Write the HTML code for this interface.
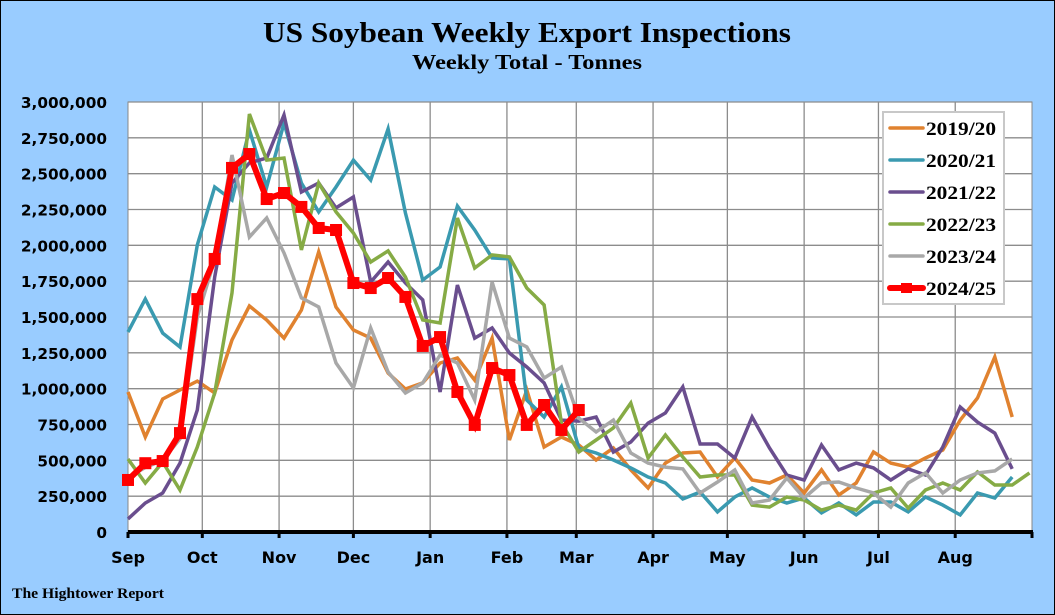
<!DOCTYPE html>
<html><head><meta charset="utf-8"><style>
html,body{margin:0;padding:0;background:#99ccff;}
svg{display:block;}
</style></head><body>
<svg id="chart" width="1055" height="615" xmlns="http://www.w3.org/2000/svg">
<rect x="0.5" y="0.5" width="1054" height="614" fill="#99ccff" stroke="#000"/>
<text x="263" y="42" textLength="528" lengthAdjust="spacingAndGlyphs" font-family="Liberation Serif, serif" font-weight="bold" font-size="29">US Soybean Weekly Export Inspections</text>
<text x="412" y="69" textLength="230" lengthAdjust="spacingAndGlyphs" font-family="Liberation Serif, serif" font-weight="bold" font-size="21">Weekly Total - Tonnes</text>
<rect x="128" y="102" width="904" height="430" fill="#fff" stroke="#888"/>
<g id="grid"></g><g id="series"></g><g id="axes"></g><g id="legend"></g>
<text x="12" y="598" textLength="152" lengthAdjust="spacingAndGlyphs" font-family="Liberation Serif, serif" font-weight="bold" font-size="15">The Hightower Report</text>
</svg>
<script>
const months = ["Sep","Oct","Nov","Dec","Jan","Feb","Mar","Apr","May","Jun","Jul","Aug"];
const monthDays = [30,31,30,31,31,28,31,30,31,30,31,31];
const yTicks = [0,250000,500000,750000,1000000,1250000,1500000,1750000,2000000,2250000,2500000,2750000,3000000];
const seriesNames = ["2019/20","2020/21","2021/22","2022/23","2023/24","2024/25"];
const s2019 = [977,663,928,991,1053,970,1340,1577,1479,1353,1549,1954,1570,1409,1353,1109,998,1040,1179,1214,1060,1353,642,991,593,663,607,502,586,433,307,481,551,558,384,516,363,342,398,272,433,258,342,558,481,453,516,572,781,935,1221,802];
const s2020 = [1395,1625,1388,1291,2002,2407,2316,2805,2407,2853,2435,2233,2407,2595,2456,2812,2226,1758,1849,2274,2107,1912,1905,921,802,1012,586,551,502,447,384,342,230,279,140,244,307,244,202,237,133,202,119,209,209,140,244,188,119,272,237,384];
const s2021 = [91,202,272,481,851,1779,2435,2575,2609,2909,2372,2435,2261,2337,1744,1884,1737,1619,977,1723,1353,1423,1249,1151,1040,781,774,802,558,628,760,830,1012,614,614,516,802,586,398,363,607,433,481,447,363,440,398,593,872,767,690,440];
const s2022 = [509,342,488,293,593,970,1668,2916,2595,2609,1968,2435,2233,2086,1884,1961,1779,1479,1458,2191,1842,1933,1919,1702,1584,760,558,642,726,900,516,677,523,384,398,398,188,174,244,223,153,188,153,272,307,167,293,342,293,419,328,328,412];
const s2023 = [380,450,500,650,1500,1900,2630,2058,2191,1947,1633,1570,1179,1005,1423,1116,970,1040,1235,1179,921,1744,1353,1291,1074,1151,795,698,781,551,481,453,440,272,349,433,202,223,377,237,342,349,307,272,174,342,412,272,363,412,426,509];
const s2024 = [363,480,495,690,1625,1905,2540,2637,2323,2365,2268,2121,2107,1737,1702,1772,1640,1298,1360,977,747,1144,1095,747,886,712,851];
const allSeries = [s2019,s2020,s2021,s2022,s2023,s2024];
const colors = ["#e0822f","#3a9ab0","#6a4e8e","#86ab45","#a8a8a8","#ff0000"];

const X0=128, X1=1032, Y0=532, Y1=102, YMAX=3000000;
const totalDays = monthDays.reduce((a,b)=>a+b,0);
const wk = 7*(X1-X0)/totalDays;
function xWeek(i){return X0 + i*wk;}
function xDay(d){return X0 + d*(X1-X0)/totalDays;}
function yVal(v){return Y0 - v/YMAX*(Y0-Y1);}
const NS="http://www.w3.org/2000/svg";
function mk(tag, attrs, parent){const e=document.createElementNS(NS,tag);for(const k in attrs)e.setAttribute(k,attrs[k]);parent.appendChild(e);return e;}
const grid=document.getElementById('grid'), axes=document.getElementById('axes'), ser=document.getElementById('series'), leg=document.getElementById('legend');

yTicks.forEach((t,i)=>{
  const y=yVal(t);
  if(t>0){const l=mk('line',{x1:X0,x2:X1,y1:y,y2:y,stroke:'#8c8c8c','stroke-width':1.3},grid);
  
  }
  const tx=mk('text',{x:107,y:y+6,'text-anchor':'end','font-family':'DejaVu Sans, sans-serif','font-weight':'bold','font-size':15.3},axes);
  tx.textContent=t.toLocaleString('en-US');
  
  
});
let d=0;
months.forEach((m,i)=>{
  const x=xDay(d);
  if(i>0){const l=mk('line',{x1:x,x2:x,y1:Y1,y2:Y0,stroke:'#8c8c8c','stroke-width':1.3},grid);
  
  }
  const tk=mk('line',{x1:x,x2:x,y1:Y0,y2:Y0+6,stroke:'#000','stroke-width':3},axes);
  
  
  const tx=mk('text',{x:x,y:563,'text-anchor':'middle','font-family':'DejaVu Sans, sans-serif','font-weight':'bold','font-size':16},axes);
  tx.textContent=m;
  
  
  d+=monthDays[i];
});
const endTick=mk('line',{x1:X1,x2:X1,y1:Y0,y2:Y0+6,stroke:'#000','stroke-width':3},axes);


const xAxis=mk('line',{x1:X0,x2:X1+1,y1:Y0,y2:Y0,stroke:'#000','stroke-width':4},axes);



allSeries.forEach((s,si)=>{
  const pts=s.map((v,i)=>xWeek(i).toFixed(1)+','+yVal(v*1000).toFixed(1)).join(' ');
  const isRed=si===5;
  const pl=mk('polyline',{points:pts,fill:'none',stroke:colors[si],'stroke-width':isRed?6:3.5,'stroke-linejoin':'miter'},ser);
  
  
  if(isRed){s.forEach((v,i)=>{
    const r=mk('rect',{x:xWeek(i)-6,y:yVal(v*1000)-6,width:12,height:12,fill:'#ff0000'},ser);
    
    
  });}
});

const lb=mk('rect',{x:883,y:112,width:121,height:192,fill:'#fff',stroke:'#c8c8c8','stroke-width':2},leg);


seriesNames.forEach((n,i)=>{
  const y=128+i*32;
  const g=mk('g',{},leg);
  
  
  mk('line',{x1:890,x2:923,y1:y,y2:y,stroke:colors[i],'stroke-width':i===5?6:3.5,'stroke-linecap':'round'},g);
  if(i===5) mk('rect',{x:901,y:y-5,width:11,height:10,fill:'#ff0000'},g);
  const t=mk('text',{x:926,y:y+7,textLength:70,lengthAdjust:'spacingAndGlyphs','font-family':'Liberation Serif, serif','font-weight':'bold','font-size':19},g);
  t.textContent=n;
});
</script>
</body></html>
